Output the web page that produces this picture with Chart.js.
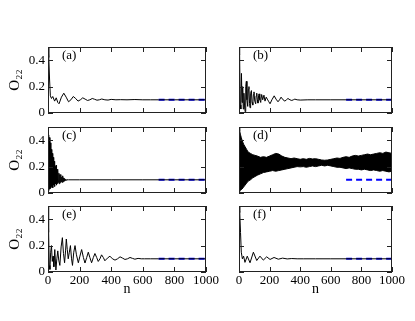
<!DOCTYPE html>
<html lang="en">
<head>
<meta charset="UTF-8">
<title>O22 vs n</title>
<script src="https://cdn.jsdelivr.net/npm/chart.js"></script>
<style>
  body { margin: 0; background: #fff; }
  .root { position: relative; width: 415px; height: 321px; overflow: hidden; }
  canvas { position: absolute; }
</style>
</head>
<body>
<div class="root">
  <canvas id="cA" width="225" height="80" style="left:0;top:40px"></canvas>
  <canvas id="cB" width="205" height="80" style="left:210px;top:40px"></canvas>
  <canvas id="cC" width="225" height="80" style="left:0;top:120px"></canvas>
  <canvas id="cD" width="205" height="80" style="left:210px;top:120px"></canvas>
  <canvas id="cE" width="225" height="122" style="left:0;top:199px"></canvas>
  <canvas id="cF" width="205" height="122" style="left:210px;top:199px"></canvas>
</div>
<script>
// ---- data ----
const refN = [700, 1000];
const refO = [0.1, 0.1];

// (a)
const aN = [0, 5, 10, 15, 22, 30, 42, 52, 62, 70, 85, 100, 115, 130, 145, 160, 175, 190, 205, 220, 235, 250, 265, 280, 295, 310, 325, 340, 360, 380, 400, 430, 460, 500, 550, 600, 650, 700, 800, 900, 1000];
const aO = [0.5, 0.42, 0.25, 0.13, 0.11, 0.125, 0.09, 0.115, 0.08, 0.07, 0.12, 0.15, 0.12, 0.085, 0.1, 0.125, 0.11, 0.09, 0.1, 0.115, 0.105, 0.095, 0.1, 0.11, 0.104, 0.097, 0.1, 0.106, 0.1, 0.098, 0.103, 0.1, 0.101, 0.1, 0.102, 0.1, 0.1, 0.1, 0.1, 0.1, 0.1];

// (b)
const bN = [0, 4, 8, 12, 16, 20, 24, 28, 32, 36, 40, 44, 48, 52, 57, 61, 65, 69, 72, 76, 81, 85, 90, 94, 98, 103, 109, 112, 116, 120, 124, 128, 131, 136, 142, 145, 148, 155, 163, 170, 178, 185, 195, 203, 215, 230, 242, 255, 265, 275, 288, 300, 310, 320, 333, 345, 355, 365, 380, 400, 450, 500, 600, 700, 800, 900, 1000];
const bO = [0.5, 0.44, 0.06, 0.03, 0.3, 0.08, 0.2, 0.03, 0.15, 0.06, 0.01, 0.2, 0.24, 0.1, 0.05, 0.18, 0.2, 0.07, 0.04, 0.15, 0.17, 0.08, 0.06, 0.14, 0.16, 0.09, 0.07, 0.13, 0.15, 0.1, 0.075, 0.13, 0.145, 0.1, 0.08, 0.12, 0.14, 0.1, 0.135, 0.09, 0.12, 0.105, 0.085, 0.07, 0.1, 0.13, 0.105, 0.085, 0.1, 0.12, 0.1, 0.09, 0.1, 0.11, 0.1, 0.095, 0.1, 0.105, 0.1, 0.098, 0.1, 0.1, 0.1, 0.1, 0.1, 0.1, 0.1];

// (c)
const cN = [0, 3, 6, 9, 12, 15, 18, 21, 24, 27, 30, 33, 36, 39, 42, 45, 48, 51, 54, 57, 60, 63, 66, 69, 72, 75, 78, 81, 84, 87, 90, 93, 96, 99, 102, 105, 108, 112, 116, 120, 130, 200, 400, 600, 800, 1000];
const cO = [0.3, 0.44, 0.02, 0.42, 0.03, 0.38, 0.04, 0.33, 0.05, 0.3, 0.04, 0.27, 0.06, 0.24, 0.05, 0.2, 0.07, 0.21, 0.06, 0.18, 0.07, 0.17, 0.08, 0.15, 0.07, 0.14, 0.08, 0.14, 0.085, 0.12, 0.08, 0.13, 0.085, 0.115, 0.09, 0.11, 0.095, 0.105, 0.097, 0.1, 0.1, 0.1, 0.1, 0.1, 0.1, 0.1];

// (d) envelope of the fast oscillation band
const dN = [0, 3, 6, 10, 15, 20, 30, 40, 50, 60, 75, 90, 105, 120, 140, 160, 180, 200, 220, 240, 260, 280, 300, 320, 340, 360, 380, 400, 420, 440, 460, 480, 500, 520, 540, 560, 580, 600, 620, 640, 660, 680, 700, 720, 740, 760, 780, 800, 820, 840, 860, 880, 900, 920, 940, 960, 980, 1000];
const dHi = [0.5, 0.49, 0.47, 0.44, 0.42, 0.4, 0.37, 0.35, 0.33, 0.31, 0.3, 0.29, 0.285, 0.28, 0.27, 0.275, 0.27, 0.28, 0.29, 0.3, 0.295, 0.28, 0.27, 0.265, 0.26, 0.265, 0.26, 0.255, 0.26, 0.255, 0.262, 0.258, 0.26, 0.255, 0.25, 0.248, 0.25, 0.255, 0.26, 0.265, 0.262, 0.27, 0.275, 0.27, 0.28, 0.285, 0.28, 0.285, 0.29, 0.295, 0.29, 0.295, 0.3, 0.305, 0.3, 0.31, 0.305, 0.3];
const dLo = [0.0, 0.01, 0.02, 0.02, 0.025, 0.03, 0.045, 0.06, 0.075, 0.09, 0.1, 0.115, 0.125, 0.135, 0.145, 0.155, 0.16, 0.165, 0.17, 0.165, 0.17, 0.175, 0.18, 0.185, 0.19, 0.195, 0.2, 0.198, 0.2, 0.195, 0.2, 0.205, 0.2, 0.205, 0.21, 0.205, 0.21, 0.205, 0.2, 0.195, 0.195, 0.19, 0.185, 0.19, 0.185, 0.18, 0.18, 0.175, 0.18, 0.175, 0.17, 0.175, 0.17, 0.165, 0.17, 0.165, 0.16, 0.165];

// (e)
const eN = [0, 4, 8, 12, 17, 22, 27, 32, 37, 43, 50, 56, 62, 68, 75, 83, 91, 98, 105, 111, 116, 122, 128, 135, 142, 149, 155, 163, 171, 180, 192, 202, 213, 224, 234, 245, 255, 265, 276, 287, 297, 308, 318, 329, 339, 350, 360, 376, 392, 408, 424, 440, 456, 472, 487, 503, 519, 535, 550, 570, 590, 610, 650, 700, 800, 900, 1000];
const eO = [0.5, 0.3, 0.05, 0.02, 0.15, 0.2, 0.08, 0.12, 0.04, 0.17, 0.015, 0.1, 0.16, 0.09, 0.05, 0.19, 0.26, 0.14, 0.07, 0.16, 0.25, 0.17, 0.1, 0.15, 0.2, 0.1, 0.05, 0.15, 0.2, 0.13, 0.07, 0.12, 0.17, 0.11, 0.068, 0.11, 0.15, 0.11, 0.07, 0.11, 0.14, 0.11, 0.08, 0.1, 0.13, 0.11, 0.085, 0.105, 0.12, 0.1, 0.09, 0.1, 0.115, 0.105, 0.095, 0.1, 0.11, 0.103, 0.097, 0.103, 0.1, 0.1, 0.1, 0.1, 0.1, 0.1, 0.1];

// (f)
const fN = [0, 5, 10, 15, 22, 30, 39, 54, 72, 94, 116, 137, 159, 181, 203, 229, 257, 285, 315, 345, 380, 420, 500, 600, 700, 800, 900, 1000];
const fO = [0.5, 0.45, 0.3, 0.15, 0.1, 0.12, 0.073, 0.12, 0.07, 0.15, 0.087, 0.12, 0.09, 0.115, 0.095, 0.11, 0.097, 0.105, 0.099, 0.102, 0.1, 0.1, 0.1, 0.1, 0.1, 0.1, 0.1, 0.1];

const xTickStep = 100;
const yTickStep = 0.1;

// ---- drawing ----
Chart.defaults.font.family = '"Liberation Serif", "Times New Roman", serif';
Chart.defaults.font.size = 13;
Chart.defaults.color = '#000';

const pts = (ns, vs) => ns.map((n, i) => ({ x: n, y: vs[i] }));

// frame, inward ticks on all four sides, panel letter
const frameTicks = {
  id: 'frameTicks',
  afterDatasetsDraw(chart, args, opts) {
    const { ctx, chartArea: a, scales: { x, y } } = chart;
    ctx.save();
    ctx.strokeStyle = '#222';
    ctx.lineWidth = 1;
    ctx.beginPath();
    x.ticks.forEach(t => {
      const px = Math.round(x.getPixelForValue(t.value)) + 0.5;
      const len = Math.round(t.value) % 200 === 0 ? 5 : 3;
      ctx.moveTo(px, a.bottom); ctx.lineTo(px, a.bottom - len);
      ctx.moveTo(px, a.top); ctx.lineTo(px, a.top + len);
    });
    y.ticks.forEach(t => {
      const py = Math.round(y.getPixelForValue(t.value)) + 0.5;
      const len = Math.round(t.value * 10) % 2 === 0 ? 5 : 3;
      ctx.moveTo(a.left, py); ctx.lineTo(a.left + len, py);
      ctx.moveTo(a.right, py); ctx.lineTo(a.right - len, py);
    });
    ctx.stroke();
    ctx.strokeRect(a.left + 0.5, a.top + 0.5, a.right - a.left - 1, a.bottom - a.top - 1);
    ctx.fillStyle = '#000';
    ctx.font = '13px "Liberation Serif"';
    ctx.textBaseline = 'middle';
    ctx.fillText(opts.label, a.left + 14, a.top + 9);
    ctx.restore();
  }
};

function makePanel(id, label, datasets, left, bottom) {
  const yW = left ? 48 : 29;
  const xH = bottom ? 49 : 7;
  new Chart(document.getElementById(id), {
    type: 'line',
    data: { datasets },
    options: {
      responsive: false,
      devicePixelRatio: 1,
      animation: false,
      events: [],
      layout: { padding: { top: 7, right: left ? 19 : 23, bottom: 0, left: 0 } },
      elements: { point: { radius: 0 }, line: { tension: 0 } },
      scales: {
        x: {
          type: 'linear', min: 0, max: 1000,
          grid: { display: false, drawTicks: false },
          border: { display: false },
          ticks: {
            display: bottom, stepSize: xTickStep, autoSkip: false, maxRotation: 0, padding: 1,
            font: { size: 13 },
            callback: v => (Math.round(v) % 200 === 0 ? String(Math.round(v)) : null)
          },
          title: { display: bottom, text: 'n', font: { size: 14 }, padding: { top: 0, bottom: 23 } },
          afterFit: s => { s.height = xH; s.paddingLeft = 0; s.paddingRight = 0; }
        },
        y: {
          min: 0, max: 0.5,
          grid: { display: false, drawTicks: false },
          border: { display: false },
          ticks: {
            display: left, stepSize: yTickStep, padding: 3,
            font: { size: 13 },
            callback: v => {
              const k = Math.round(v * 10);
              if (k % 2 !== 0 || k === 5) return null;
              return k === 0 ? '0' : (k / 10).toFixed(1);
            }
          },
          title: { display: left, text: 'O₂₂', font: { size: 15 }, padding: { top: 6, bottom: 0 } },
          afterFit: s => { s.width = yW; s.paddingTop = 0; s.paddingBottom = 0; }
        }
      },
      plugins: {
        legend: { display: false },
        tooltip: { enabled: false },
        frameTicks: { label }
      }
    },
    plugins: [frameTicks]
  });
}

const lineDs = (ns, vs) => ({ data: pts(ns, vs), borderColor: '#000', borderWidth: 1, fill: false });
const refDs = () => ({ data: pts(refN, refO), borderColor: '#0000ff', borderWidth: 2, borderDash: [6, 4], fill: false });

makePanel('cA', '(a)', [lineDs(aN, aO), refDs()], true, false);
makePanel('cB', '(b)', [lineDs(bN, bO), refDs()], false, false);
makePanel('cC', '(c)', [lineDs(cN, cO), refDs()], true, false);
makePanel('cD', '(d)', [
  { data: pts(dN, dHi), borderColor: '#000', borderWidth: 1, backgroundColor: '#000', fill: '+1' },
  lineDs(dN, dLo),
  refDs()
], false, false);
makePanel('cE', '(e)', [lineDs(eN, eO), refDs()], true, true);
makePanel('cF', '(f)', [lineDs(fN, fO), refDs()], false, true);
</script>
</body>
</html>
